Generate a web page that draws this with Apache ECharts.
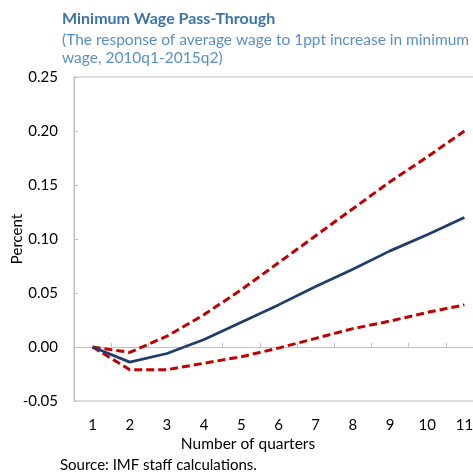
<!DOCTYPE html>
<html>
<head>
<meta charset="utf-8">
<script src="https://cdn.jsdelivr.net/npm/echarts@6/dist/echarts.min.js"></script>
<style>
  html, body { margin: 0; padding: 0; background: #fff; }
  #chart { width: 473px; height: 473px; }
</style>
</head>
<body>
<div id="chart"></div>
<script>
// Quarters after the minimum wage increase
const quarters = ['1', '2', '3', '4', '5', '6', '7', '8', '9', '10', '11'];
// Point estimate of the average wage response (percent)
const response = [0.000, -0.014, -0.006, 0.007, 0.023, 0.039, 0.056, 0.072, 0.089, 0.104, 0.120];
// Upper and lower confidence bands
const upperBand = [0.000, -0.005, 0.010, 0.030, 0.053, 0.078, 0.103, 0.128, 0.153, 0.176, 0.200];
const lowerBand = [0.000, -0.021, -0.021, -0.015, -0.009, -0.001, 0.008, 0.017, 0.024, 0.032, 0.039];
// Y-axis range
const yTicks = { min: -0.05, max: 0.25, step: 0.05 };

const FONT = 'Lato, "Open Sans", sans-serif';
const chart = echarts.init(document.getElementById('chart'), null, { renderer: 'canvas' });

chart.setOption({
  animation: false,
  title: [
    {
      text: 'Minimum Wage Pass-Through',
      left: 62, top: 11, padding: 0,
      textStyle: { fontFamily: FONT, fontSize: 16, fontWeight: 'bold', color: '#3b74ac' }
    },
    {
      text: '(The response of average wage to 1ppt increase in minimum\nwage, 2010q1-2015q2)',
      left: 62, top: 31, padding: 0,
      textStyle: { fontFamily: FONT, fontSize: 15.5, fontWeight: 'normal', color: '#5a8fc6', lineHeight: 18 }
    },
    {
      text: 'Number of quarters',
      left: 248, top: 436, textAlign: 'center', padding: 0,
      textStyle: { fontFamily: FONT, fontSize: 15.5, fontWeight: 'normal', color: '#000' }
    },
    {
      text: 'Source: IMF staff calculations.',
      left: 60, top: 458, padding: 0,
      textStyle: { fontFamily: FONT, fontSize: 15, fontWeight: 'normal', color: '#000' }
    }
  ],
  grid: {
    left: 74, top: 77, width: 409, height: 324,
    containLabel: false, outerBoundsMode: 'none',
    show: true, borderColor: '#c0c0c0', borderWidth: 1, backgroundColor: 'transparent'
  },
  xAxis: {
    type: 'category',
    data: quarters,
    boundaryGap: true,
    axisLine: { onZero: true, lineStyle: { color: '#c0c0c0', width: 1 } },
    axisTick: { show: true, inside: true, length: 4, lineStyle: { color: '#c0c0c0' } },
    axisLabel: { margin: 17, fontFamily: FONT, fontSize: 15, color: '#000' },
    splitLine: { show: false }
  },
  yAxis: {
    type: 'value',
    min: yTicks.min, max: yTicks.max, interval: yTicks.step,
    name: 'Percent',
    nameLocation: 'middle', nameRotate: 90, nameGap: 49, nameMoveOverlap: false,
    nameTextStyle: { fontFamily: FONT, fontSize: 15, color: '#000' },
    axisLine: { show: true, lineStyle: { color: '#c0c0c0', width: 1 } },
    axisTick: { show: true, inside: true, length: 4, lineStyle: { color: '#c0c0c0' } },
    axisLabel: {
      margin: 16, fontFamily: FONT, fontSize: 15, color: '#000',
      formatter: v => v.toFixed(2)
    },
    splitLine: { show: false }
  },
  series: [
    {
      name: 'Upper band', type: 'line', data: upperBand,
      symbol: 'none', lineStyle: { color: '#c00000', width: 3, type: [8, 4] }, z: 2
    },
    {
      name: 'Lower band', type: 'line', data: lowerBand,
      symbol: 'none', lineStyle: { color: '#c00000', width: 3, type: [8, 4] }, z: 2
    },
    {
      name: 'Response', type: 'line', data: response,
      symbol: 'none', lineStyle: { color: '#1f3d6b', width: 2.75 }, z: 3
    }
  ]
});
</script>
</body>
</html>
